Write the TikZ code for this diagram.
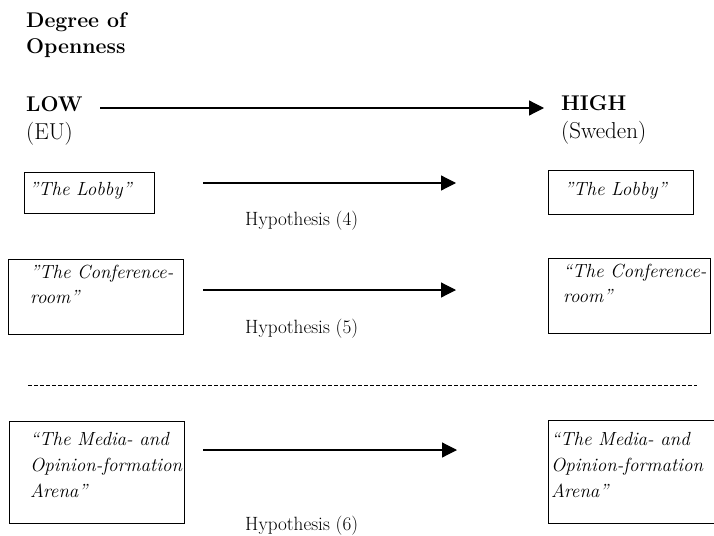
\documentclass[tikz,border=0pt]{standalone}
\usepackage{fontspec}
\usetikzlibrary{arrows.meta}
\begin{document}
\begin{tikzpicture}[x=1pt,y=-1pt,
  box/.style={draw, line width=1pt, inner sep=0pt, outer sep=0pt, anchor=north west},
  boxtext/.style={anchor=north west, inner sep=0pt, align=left, font=\fontsize{19}{25}\selectfont\itshape},
  boxline/.style={anchor=base west, inner sep=0pt, font=\fontsize{19}{25}\selectfont\itshape},
  hyp/.style={anchor=base west, inner sep=0pt, font=\fontsize{19.2}{22}\selectfont},
  head/.style={anchor=base west, inner sep=0pt, font=\fontsize{21.3}{24}\selectfont\bfseries},
  sub/.style={anchor=base west, inner sep=0pt, font=\fontsize{23}{26}\selectfont},
  arr/.style={line width=1.2pt, -{Triangle[length=15pt,width=15pt]}},
  sep/.style={line width=0.6pt, dash pattern=on 4pt off 2pt},
]
\useasboundingbox (0,0) rectangle (714,535);

% heading
\node[head] (deg) at (26,28) {Degree of};
\node[head] (open) at (26,53) {Openness};

% scale ends
\node[head] (low) at (26,111) {LOW};
\node[sub] (eu) at (26,139) {(EU)};
\node[head] (high) at (561,110) {HIGH};
\node[sub] (swe) at (561,138) {(Sweden)};

\coordinate (a0s) at (100,108);
\coordinate (a0e) at (544,108);
\draw[arr] (a0s) -- (a0e);

% row 1: lobby
\node[box, minimum width=130pt, minimum height=41pt] (lobL) at (24,172) {};
\node[boxline] (lobLt) at (29,195) {”The Lobby”};
\node[box, minimum width=145pt, minimum height=44pt] (lobR) at (548,170) {};
\node[boxline] (lobRt) at (564,195) {”The Lobby”};
\coordinate (a1s) at (203,183);
\coordinate (a1e) at (456,183);
\draw[arr] (a1s) -- (a1e);
\node[hyp] (h4) at (245,225) {Hypothesis (4)};

% row 2: conference room
\node[box, minimum width=175pt, minimum height=75pt] (confL) at (8,259) {};
\node[boxtext] (confLt) at (30,264.8) {”The Conference-\\room”};
\node[box, minimum width=162pt, minimum height=75pt] (confR) at (548,258) {};
\node[boxtext] (confRt) at (563,263.8) {“The Conference-\\room”};
\coordinate (a2s) at (203,290);
\coordinate (a2e) at (456,290);
\draw[arr] (a2s) -- (a2e);
\node[hyp] (h5) at (245,333) {Hypothesis (5)};

% separator
\coordinate (dl) at (28,385);
\coordinate (dr) at (697,385);
\draw[sep] (dl) -- (dr);

% row 3: media arena
\node[box, minimum width=175pt, minimum height=102pt] (medL) at (9,421) {};
\node[boxtext, font=\fontsize{19}{26}\selectfont\itshape] (medLt) at (30,431.8) {“The Media- and\\Opinion-formation\\Arena”};
\node[box, minimum width=180pt, minimum height=103pt] (medR) at (548,420) {};
\node[boxtext, font=\fontsize{19}{26}\selectfont\itshape] (medRt) at (551,431.8) {“The Media- and\\Opinion-formation\\Arena”};
\coordinate (a3s) at (203,450);
\coordinate (a3e) at (457,450);
\draw[arr] (a3s) -- (a3e);
\node[hyp] (h6) at (245,530) {Hypothesis (6)};
\end{tikzpicture}
\end{document}
